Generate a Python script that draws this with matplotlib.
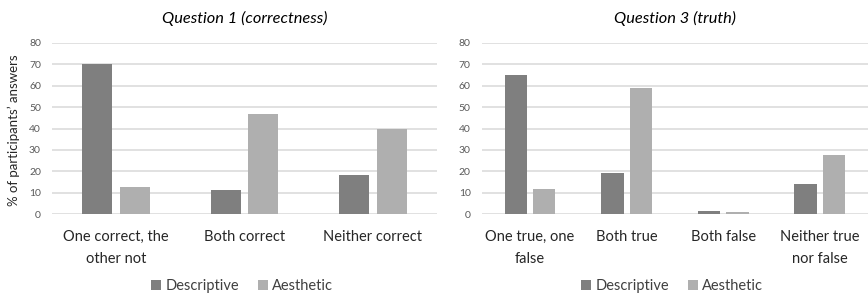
import matplotlib
matplotlib.use("Agg")
import matplotlib.pyplot as plt
import numpy as np
from matplotlib.patches import Patch

plt.rcParams['font.family'] = ['Lato', 'DejaVu Sans']

q1_categories = ["One correct, the\nother not", "Both correct", "Neither correct"]
q1_descriptive = [70.2, 11.2, 18.3]
q1_aesthetic = [12.9, 46.8, 39.9]

q3_categories = ["One true, one\nfalse", "Both true", "Both false", "Neither true\nnor false"]
q3_descriptive = [64.8, 19.1, 1.7, 14.0]
q3_aesthetic = [11.7, 59.0, 0.9, 27.8]

yticks = [0, 10, 20, 30, 40, 50, 60, 70, 80]
series_names = ["Descriptive", "Aesthetic"]
titles = ["Question 1 (correctness)", "Question 3 (truth)"]
ylabel = "% of participants\u2019 answers"

dark = "#7f7f7f"
light = "#afafaf"
grid_c = "#d9d9d9"
text_c = "#595959"

fig = plt.figure(figsize=(8.68, 2.97), dpi=100)
ax1 = fig.add_axes([52/868, 1-214.3/297, 385/868, (214.3-42.7)/297])
ax2 = fig.add_axes([481.7/868, 1-214.3/297, 386.3/868, (214.3-42.7)/297])

bw = 0.232
gap = 0.062

def draw(ax, cats, d, a):
    x = np.arange(len(cats))
    off = (bw + gap) / 2
    ax.bar(x - off, d, bw, color=dark, zorder=3)
    ax.bar(x + off, a, bw, color=light, zorder=3)
    ax.set_xlim(-0.5, len(cats) - 0.5)
    ax.set_ylim(0, 80)
    ax.set_yticks(yticks)
    ax.set_yticklabels([str(t) for t in yticks], fontsize=7.5, color=text_c)
    ax.set_xticks(x)
    ax.set_xticklabels(cats, fontsize=10.5, color="#262626", linespacing=1.8)
    ax.tick_params(axis='both', length=0)
    ax.tick_params(axis='y', pad=8)
    ax.tick_params(axis='x', pad=11)
    for s in ax.spines.values():
        s.set_visible(False)
    ax.grid(axis='y', color=grid_c, linewidth=1.1, zorder=0)
    ax.set_axisbelow(True)

draw(ax1, q1_categories, q1_descriptive, q1_aesthetic)
draw(ax2, q3_categories, q3_descriptive, q3_aesthetic)

for ax, t in zip([ax1, ax2], titles):
    ax.set_title(t, fontsize=11.8, style='italic', color="#000000", pad=14)

fig.text(14/868, 1-130/297, ylabel, rotation=90, ha='center', va='center',
         fontsize=9.5, color="#262626")

handles = [Patch(facecolor=dark, edgecolor='none'), Patch(facecolor=light, edgecolor='none')]
for cx in [242/868, 672/868]:
    fig.legend(handles, series_names, loc='center', bbox_to_anchor=(cx, 1-286/297),
               ncol=2, frameon=False, fontsize=10.5, handlelength=0.7, handleheight=0.7,
               handletextpad=0.3, columnspacing=1.3, labelcolor="#404040")

fig.savefig("out.png", dpi=100)
